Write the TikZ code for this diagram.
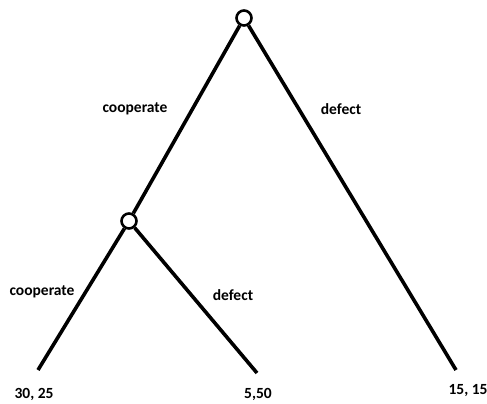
\documentclass[tikz,border=0pt]{standalone}
\usepackage{fontspec}
\setmainfont{Carlito}
\usetikzlibrary{positioning}

\begin{document}
\begin{tikzpicture}[
        x=1pt, y=-1pt,
        choice/.style={circle, draw=black, fill=white, line width=2.6pt,
            inner sep=0pt, minimum size=15pt},
        branch/.style={line width=3.6pt, color=black},
        move/.style={font=\fontsize{15.5}{18}\selectfont\bfseries},
        payoff/.style={font=\fontsize{15.5}{18}\selectfont\bfseries}
        ]
        \useasboundingbox (0,0) rectangle (487,404);

        \node[choice] (root) at (244,18) {};
        \node[choice] (mid) at (129,221) {};
        \coordinate (leafA) at (38,370);
        \coordinate (leafB) at (257,373);
        \coordinate (leafC) at (456,370);

        \draw[branch] (root) -- (mid);
        \draw[branch] (root) -- (leafC);
        \draw[branch] (mid) -- (leafA);
        \draw[branch] (mid) -- (leafB);

        \node[move] (coopTop) at (135,109) {cooperate};
        \node[move] (defTop) at (341,109) {defect};
        \node[move] (coopLow) at (42,292) {cooperate};
        \node[move] (defLow) at (233,295) {defect};

        \node[payoff] (payA) at (34,394) {30, 25};
        \node[payoff] (payB) at (258,394) {5,50};
        \node[payoff] (payC) at (468,391) {15, 15};
    \end{tikzpicture}
\end{document}
